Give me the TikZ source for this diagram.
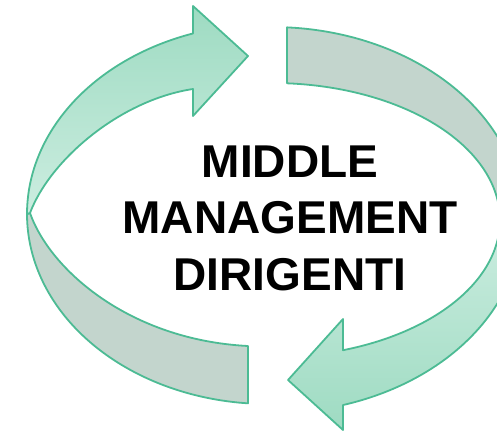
\documentclass[tikz,border=0pt]{standalone}
\usepackage{fontspec}
\setmainfont{Liberation Sans}
\usepackage{tikz}

\definecolor{edgegreen}{RGB}{76,187,148}
\definecolor{frontdark}{RGB}{158,219,194}
\definecolor{frontlight}{RGB}{204,237,224}
\definecolor{backgray}{RGB}{195,213,205}

\begin{document}
\begin{tikzpicture}[x=1pt,y=-1pt,
	band/.style={draw=edgegreen,line width=1.8pt,line join=round},
	back/.style={band,fill=backgray},
	front/.style={band}]
	\useasboundingbox (0,0) rectangle (497,431);
	\clip (0,0) rectangle (497,431);

	%Left arrow
	\draw[back,domain=94.76:180,smooth,samples=40,variable=\x] plot ({268+241*cos(\x)},{214+190*sin(\x)})
		-- (30,213) .. controls (50,270) and (130,340) .. (248,346) -- cycle;
	\draw[front,top color=frontdark,bottom color=frontlight,domain=180:251.87,smooth,samples=40,variable=\x] plot ({268+241*cos(\x)},{214+190*sin(\x)})
		-- (193,6) -- (248,56) -- (193,116) -- (193,89) .. controls (120,100) and (50,160) .. (30,213) -- cycle;

	%Right arrow
	\draw[back,smooth,samples=40,variable=\x] plot[domain=-86.56:0] ({272+250*cos(\x)},{220+193*sin(\x)})
		-- plot[domain=0:-86.23] ({272+228*cos(\x)},{220+137*sin(\x)}) -- cycle;
	\draw[front,top color=frontlight,bottom color=frontdark,smooth,samples=40,variable=\x] plot[domain=0:73.5] ({272+250*cos(\x)},{220+193*sin(\x)})
		-- (343,430) -- (288,380) -- (343,319) -- plot[domain=71.86:0] ({272+228*cos(\x)},{220+137*sin(\x)}) -- cycle;

	%Text
	\node[font=\bfseries\fontsize{46}{56.5}\selectfont,align=center] (title) at (290,218) {MIDDLE\\MANAGEMENT\\DIRIGENTI};
\end{tikzpicture}
\end{document}
